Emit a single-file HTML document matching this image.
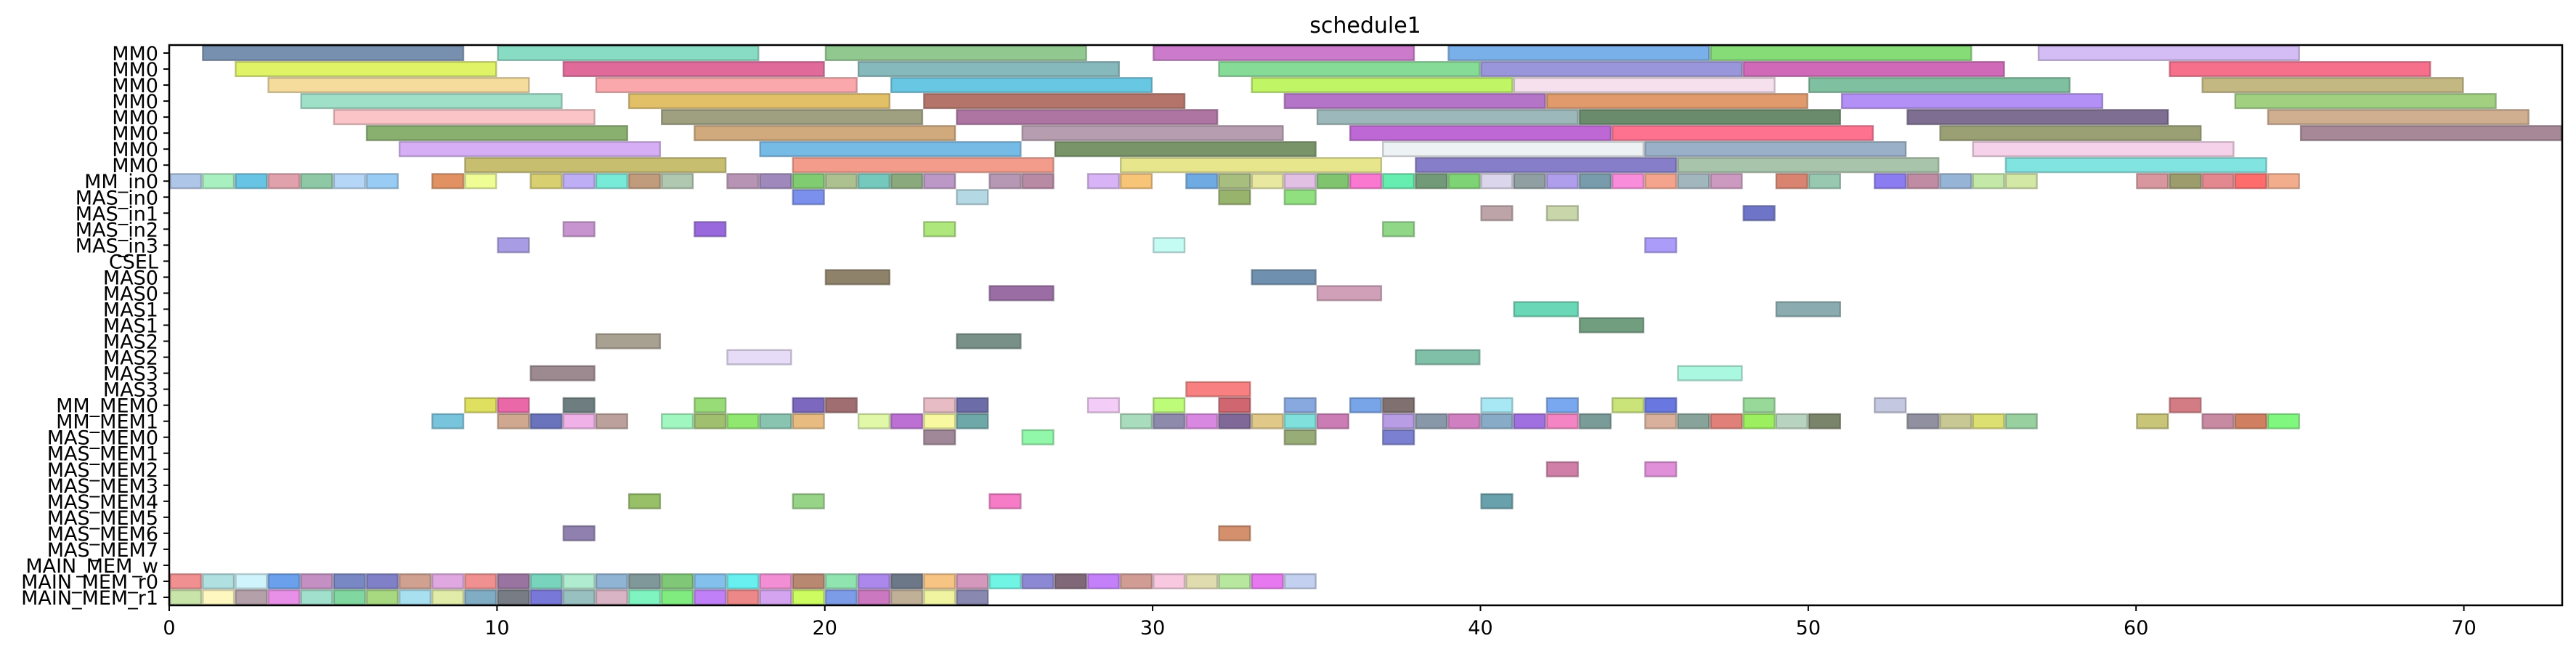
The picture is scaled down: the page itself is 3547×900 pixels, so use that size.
<!DOCTYPE html>
<html><head><meta charset="utf-8"><style>
html,body{margin:0;padding:0;background:#fff;}
svg{display:block;font-family:"DejaVu Sans","Liberation Sans",sans-serif;}
</style></head><body>
<svg id="chart" width="3547" height="900" viewBox="0 0 3547 900">
<text x="1880" y="45" font-size="30" text-anchor="middle">schedule1</text>
<g id="bars"></g>
<g id="yaxis"></g>
<g id="xaxis"></g>
<rect x="233" y="62" width="3295" height="771" fill="none" stroke="#000" stroke-width="2.5"/>
</svg>
<script>
const labels = ["MM0","MM0","MM0","MM0","MM0","MM0","MM0","MM0","MM_in0","MAS_in0","MAS_in1","MAS_in2","MAS_in3","CSEL","MAS0","MAS0","MAS1","MAS1","MAS2","MAS2","MAS3","MAS3","MM_MEM0","MM_MEM1","MAS_MEM0","MAS_MEM1","MAS_MEM2","MAS_MEM3","MAS_MEM4","MAS_MEM5","MAS_MEM6","MAS_MEM7","MAIN_MEM_w","MAIN_MEM_r0","MAIN_MEM_r1"];
const rowDurations = [8,8,8,8,8,8,8,8,1,1,1,1,1,1,2,2,2,2,2,2,2,2,1,1,1,1,1,1,1,1,1,1,1,1,1];
const rowStarts = [
 [1,10,20,30,39,47,57],
 [2,12,21,32,40,48,61],
 [3,13,22,33,41,50,62],
 [4,14,23,34,42,51,63],
 [5,15,24,35,43,53,64],
 [6,16,26,36,44,54,65],
 [7,18,27,37,45,55],
 [9,19,29,38,46,56],
 [0,1,2,3,4,5,6,8,9,11,12,13,14,15,17,18,19,20,21,22,23,25,26,28,29,31,32,33,34,35,36,37,38,39,40,41,42,43,44,45,46,47,49,50,52,53,54,55,56,60,61,62,63,64],
 [19,24,32,34],
 [40,42,48],
 [12,16,23,37],
 [10,30,45],
 [],
 [20,33],
 [25,35],
 [41,49],
 [43],
 [13,24],
 [17,38],
 [11,46],
 [31],
 [9,10,12,16,19,20,23,24,28,30,32,34,36,37,40,42,44,45,48,52,61],
 [8,10,11,12,13,15,16,17,18,19,21,22,23,24,29,30,31,32,33,34,35,37,38,39,40,41,42,43,45,46,47,48,49,50,53,54,55,56,60,62,63,64],
 [23,26,34,37],
 [],
 [42,45],
 [],
 [14,19,25,40],
 [],
 [12,32],
 [],
 [],
 [0,1,2,3,4,5,6,7,8,9,10,11,12,13,14,15,16,17,18,19,20,21,22,23,24,25,26,27,28,29,30,31,32,33,34],
 [0,1,2,3,4,5,6,7,8,9,10,11,12,13,14,15,16,17,18,19,20,21,22,23,24]
];
const xTicks = [0,10,20,30,40,50,60,70];
const rowColors = [
 ["#7790b0","#88dcc4","#90c890","#cc7acc","#7ab0ea","#86dd78","#d4bdf4"],
 ["#e0f266","#e06a9a","#86b9bb","#86dc96","#9a96dc","#d06ab8","#f6708c"],
 ["#f5dc9c","#fba8ac","#68c8e4","#c0f566","#f6e0ee","#7ec0a0","#c4b882"],
 ["#9fe0c8","#e2c068","#b4746a","#b474c8","#e09a6c","#b290f6","#a0d080"],
 ["#fbc4c6","#9ea080","#ae74a2","#9cb8ba","#6a8c6c","#7e6e92","#d0ae90"],
 ["#8ab070","#d0aa7c","#b69eb0","#be68d6","#fe7290","#9aa074","#a68896"],
 ["#d6aef6","#76bae6","#789468","#edf2f4","#9ab0c8","#f6d2ea"],
 ["#c8be70","#f49c8c","#e8e68c","#867ec8","#a8c4aa","#82e4e0"],
 ["#aec6e8","#a8f0c0","#68c4e4","#e0a0ac","#8ec8a4","#b6d6f8","#98ccf4","#e29262","#eefe94","#d8d070","#beaef6","#78ead8","#c09c7c","#b0c8b0","#b894b4","#9e88bc","#80cc70","#acc090","#74c8bc","#8aaa7e","#bc98c6","#b698b4","#b88aa4","#d8b4f6","#f8c478","#70aae2","#a8be7e","#e8e8a0","#e2c0e4","#80c470","#fa78d0","#66eeb0","#729a78","#7ed474","#dcd6ec","#909fa2","#ae9eec","#789cac","#fa8cdc","#f4a48c","#a2b6be","#cc9ac0","#d88470","#98c8b0","#8c7cf2","#c08ca4","#96b4d6","#c4e8a8","#d2e8a4","#d8979e","#9c9c6c","#e48890","#fe6c6c","#f2ae8c"],
 ["#7a90ec","#b4d8e4","#98b46c","#90e080"],
 ["#bca4a8","#c8d6aa","#6e74c8"],
 ["#c894d0","#9868dc","#aee87c","#90d888"],
 ["#a89ce4","#c4fcf4","#aa9cf8"],
 [],
 ["#8e826a","#7090b0"],
 ["#9a6ea4","#d0a0b8"],
 ["#6ad8b6","#8aacb0"],
 ["#729e80"],
 ["#a8a090","#789088"],
 ["#e6dcf8","#80c0a8"],
 ["#9c8a90","#aaf8e0"],
 ["#f88080"],
 ["#e0e060","#ea68a8","#6e7e80","#98dc78","#7c68be","#a06e70","#e8bcc4","#6c6ca8","#f4ccf8","#bcfc78","#d06670","#88a8e0","#78a4e8","#807070","#a8e8f4","#7aa8f0","#cae47a","#6878e0","#98d898","#c4c8e0","#d47c84"],
 ["#78c4dc","#d0a890","#6a74bc","#f0b0e8","#bca09c","#a0f8c0","#a0c070","#90e870","#88c4b0","#e8bc80","#e0f8a8","#bc70d4","#f8f8a0","#6ea8a8","#a8dcbc","#8e8aac","#d888e0","#806898","#e0c888","#80e0dc","#cc7cb4","#b89ce4","#8898a8","#d080c0","#88acc8","#a070e0","#f484c4","#7a9c98","#d8b09c","#88a49a","#e08078","#9cf060","#b8d4c0","#7a846a","#9090a0","#c8c894","#dce070","#98d0a0","#c8c478","#c88aa0","#d08060","#80f880"],
 ["#a08898","#90f8a8","#98ac78","#7c80d0"],
 [],
 ["#d080a8","#e090d8"],
 [],
 ["#98c068","#98d488","#f67cc8","#68a0ac"],
 [],
 ["#9080b0","#d4906c"],
 [],
 [],
 ["#f09090","#b0e0e0","#d0f4fc","#6aa0ec","#c490c4","#7888c4","#8080c8","#d0a090","#e0a8e0","#f09090","#9a74a0","#78d4bc","#b0ecd0","#90b4d4","#80989a","#80c878","#84c0ec","#68f0f0","#f28ed4","#b88870","#90e4b0","#ac88ec","#6c7888","#f8c484","#d498bc","#70f4e4","#8c88d4","#806878","#c480f8","#d09c94","#f8c8e0","#e0dcb0","#b8e8a0","#e878f0","#c4d0f0"],
 ["#c8e4a8","#fef8c0","#b4a0a8","#e890e8","#a0e0cc","#80d8a0","#a8d880","#a8e0f0","#e0eca8","#80acc4","#787c84","#7878d8","#98c0c0","#d8b4c4","#80f4c0","#80ec80","#c080f8","#ec8888","#d4a4f0","#ccfc60","#7c9ce8","#cc78c0","#c0b098","#f0f4a0","#8888b0"]
];

const NS = "http://www.w3.org/2000/svg";
const X0 = 233, X1 = 3528, XMAX = 73, Y0 = 62, Y1 = 833;
const rowH = (Y1 - Y0) / labels.length;
function xScale(v){ return X0 + (X1 - X0) * v / XMAX; }
function yTop(i){ return Y0 + i * rowH; }
function darker(hex){
  const n = parseInt(hex.slice(1),16);
  const r = Math.round(((n>>16)&255)*0.72), g = Math.round(((n>>8)&255)*0.72), b = Math.round((n&255)*0.72);
  return "rgb("+r+","+g+","+b+")";
}
const barsG = document.getElementById('bars');
rowStarts.forEach((starts, i) => {
  starts.forEach((s, j) => {
    const d = rowDurations[i];
    const r = document.createElementNS(NS, 'rect');
    const c = (rowColors[i] && rowColors[i][j]) || "#aaaaaa";
    r.setAttribute('x', xScale(s) + 1.2);
    r.setAttribute('y', yTop(i) + 1.2);
    r.setAttribute('width', xScale(s + d) - xScale(s) - 2.4);
    r.setAttribute('height', rowH - 2.4);
    r.setAttribute('fill', c);
    r.setAttribute('stroke', darker(c));
    r.setAttribute('stroke-opacity', '0.7');
    r.setAttribute('stroke-width', '2.4');
    
    
    barsG.appendChild(r);
  });
});
const yG = document.getElementById('yaxis');
labels.forEach((lab, i) => {
  const yc = yTop(i) + rowH / 2;
  const t = document.createElementNS(NS, 'line');
  t.setAttribute('x1', X0 - 8); t.setAttribute('x2', X0);
  t.setAttribute('y1', yc); t.setAttribute('y2', yc);
  t.setAttribute('stroke', '#000'); t.setAttribute('stroke-width', '2');
  
  
  yG.appendChild(t);
  const tx = document.createElementNS(NS, 'text');
  tx.setAttribute('x', X0 - 15); tx.setAttribute('y', yc + 10);
  tx.setAttribute('text-anchor', 'end'); tx.setAttribute('font-size', '27');
  tx.textContent = lab;
  
  
  yG.appendChild(tx);
});
const xG = document.getElementById('xaxis');
xTicks.forEach(v => {
  const x = xScale(v);
  const t = document.createElementNS(NS, 'line');
  t.setAttribute('x1', x); t.setAttribute('x2', x);
  t.setAttribute('y1', Y1); t.setAttribute('y2', Y1 + 8);
  t.setAttribute('stroke', '#000'); t.setAttribute('stroke-width', '2');
  
  
  xG.appendChild(t);
  const tx = document.createElementNS(NS, 'text');
  tx.setAttribute('x', x); tx.setAttribute('y', 873);
  tx.setAttribute('text-anchor', 'middle'); tx.setAttribute('font-size', '27');
  tx.textContent = v;
  
  
  xG.appendChild(tx);
});
</script>
</body></html>
